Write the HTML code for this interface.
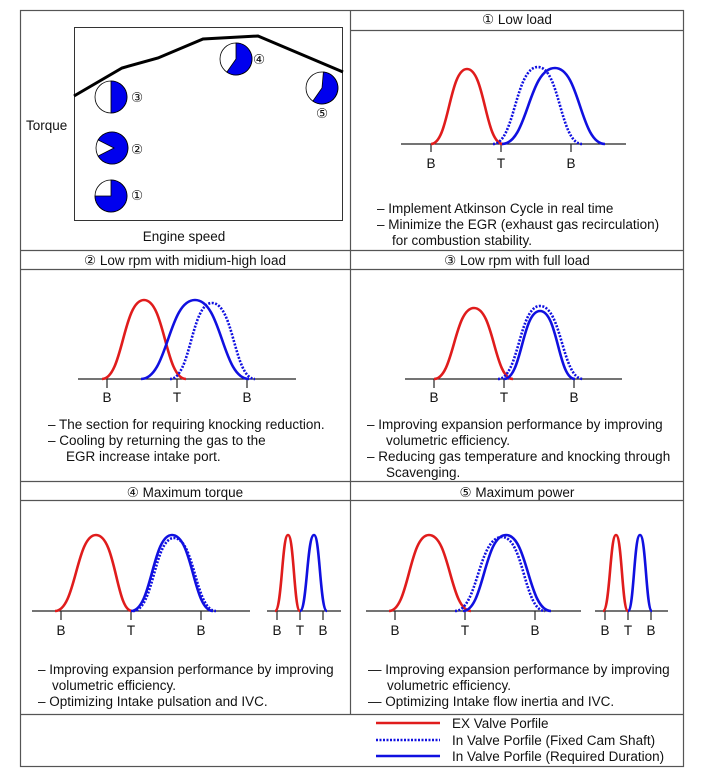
<!DOCTYPE html>
<html><head><meta charset="utf-8"><style>
body{margin:0;background:#fff}
svg{display:block}
text{font-family:"Liberation Sans","DejaVu Sans",sans-serif;font-size:13.5px;fill:#111}
.r{fill:none;stroke:#e01c1c;stroke-width:2.6}
.b{fill:none;stroke:#1010e0;stroke-width:2.6}
.d{fill:none;stroke:#1010e0;stroke-width:2.6;stroke-dasharray:2 1.5}
.ax{stroke:#222;stroke-width:1.2}
.g{stroke:#555;stroke-width:1.2;fill:none}
</style></head><body>
<svg width="703" height="777" viewBox="0 0 703 777" xmlns="http://www.w3.org/2000/svg">
<rect x="20.5" y="10.5" width="663" height="756" class="g"/>
<line x1="350.5" y1="10" x2="350.5" y2="714" class="g"/>
<line x1="350" y1="30.5" x2="683" y2="30.5" class="g"/>
<line x1="20" y1="250.5" x2="683" y2="250.5" class="g"/>
<line x1="20" y1="269.5" x2="683" y2="269.5" class="g"/>
<line x1="20" y1="481.5" x2="683" y2="481.5" class="g"/>
<line x1="20" y1="500.5" x2="683" y2="500.5" class="g"/>
<line x1="20" y1="714.5" x2="683" y2="714.5" class="g"/>

<text x="517" y="24" text-anchor="middle">① Low load</text>
<text x="185" y="265" text-anchor="middle">② Low rpm with midium-high load</text>
<text x="517" y="265" text-anchor="middle">③ Low rpm with full load</text>
<text x="185" y="497" text-anchor="middle">④ Maximum torque</text>
<text x="517" y="497" text-anchor="middle">⑤ Maximum power</text>

<rect x="74.5" y="27.5" width="268" height="193" fill="none" stroke="#333" stroke-width="1"/>
<polyline points="74,96 122,68 158,58 203,39 258,36 343,72" fill="none" stroke="#000" stroke-width="3"/>
<text x="26" y="130">Torque</text>
<text x="184" y="241" text-anchor="middle">Engine speed</text>
<g stroke="#000" stroke-width="0.8">
<circle cx="111" cy="196" r="16" fill="#fff"/>
<path d="M111,196 L111,180 A16,16 0 1 1 95,196 Z" fill="#0000ee"/>
<circle cx="112" cy="148" r="16" fill="#fff"/>
<path d="M114,148 L98.1,140 A16,16 0 1 1 98.1,156 Z" fill="#0000ee"/>
<circle cx="111" cy="97" r="16" fill="#fff"/>
<path d="M111,97 L111,81 A16,16 0 0 1 111,113 Z" fill="#0000ee"/>
<circle cx="236" cy="59" r="16" fill="#fff"/>
<path d="M236,59 L236,43 A16,16 0 1 1 226.8,72.1 Z" fill="#0000ee"/>
<circle cx="322" cy="88" r="16" fill="#fff"/>
<path d="M322,88 L323.4,72 A16,16 0 1 1 312.8,101.1 Z" fill="#0000ee"/>
</g>
<text x="131" y="200">①</text>
<text x="131" y="154">②</text>
<text x="131" y="102">③</text>
<text x="253" y="64">④</text>
<text x="316" y="118">⑤</text>

<line x1="401" y1="144" x2="626" y2="144" class="ax"/>
<g class="ax"><line x1="431" y1="144" x2="431" y2="152"/><line x1="501" y1="144" x2="501" y2="152"/><line x1="571" y1="144" x2="571" y2="152"/></g>
<path class="r" d="M431,144 C449,144 449,69 467,69 C485,69 485,144 503,144"/>
<path class="d" d="M493,144 C515,144 515,67 538,67 C560,67 560,144 582,144"/>
<path class="b" d="M502,144 C528,144 528,68 555,68 C580,68 580,144 605,144"/>
<text x="431" y="168" text-anchor="middle">B</text><text x="501" y="168" text-anchor="middle">T</text><text x="571" y="168" text-anchor="middle">B</text>
<text x="377" y="213">– Implement Atkinson Cycle in real time</text>
<text x="377" y="229">– Minimize the EGR (exhaust gas recirculation)</text>
<text x="392" y="245">for combustion stability.</text>

<line x1="78" y1="379" x2="296" y2="379" class="ax"/>
<g class="ax"><line x1="107" y1="379" x2="107" y2="388"/><line x1="177" y1="379" x2="177" y2="388"/><line x1="247" y1="379" x2="247" y2="388"/></g>
<path class="r" d="M102,379 C123,379 123,300 144,300 C165,300 165,379 186,379"/>
<path class="d" d="M170,379 C191,379 191,303 212,303 C234,303 234,379 255,379"/>
<path class="b" d="M141,379 C168,379 168,300 195,300 C222,300 222,379 249,379"/>
<text x="107" y="402" text-anchor="middle">B</text><text x="177" y="402" text-anchor="middle">T</text><text x="247" y="402" text-anchor="middle">B</text>
<text x="48" y="429">– The section for requiring knocking reduction.</text>
<text x="48" y="445">– Cooling by returning the gas to the</text>
<text x="66" y="461">EGR increase intake port.</text>

<line x1="405" y1="379" x2="622" y2="379" class="ax"/>
<g class="ax"><line x1="434" y1="379" x2="434" y2="388"/><line x1="504" y1="379" x2="504" y2="388"/><line x1="574" y1="379" x2="574" y2="388"/></g>
<path class="r" d="M434,379 C454,379 454,308 474,308 C494,308 494,379 513,379"/>
<path class="d" d="M498,379 C519,379 519,306 540,306 C562,306 562,379 583,379"/>
<path class="b" d="M504,379 C522,379 522,311 540,311 C558,311 558,379 575,379"/>
<text x="434" y="402" text-anchor="middle">B</text><text x="504" y="402" text-anchor="middle">T</text><text x="574" y="402" text-anchor="middle">B</text>
<text x="367" y="429">– Improving expansion performance by improving</text>
<text x="386" y="445">volumetric efficiency.</text>
<text x="367" y="461">– Reducing gas temperature and knocking through</text>
<text x="386" y="477">Scavenging.</text>

<line x1="32" y1="611" x2="250" y2="611" class="ax"/>
<g class="ax"><line x1="61" y1="611" x2="61" y2="620"/><line x1="131" y1="611" x2="131" y2="620"/><line x1="201" y1="611" x2="201" y2="620"/></g>
<path class="r" d="M55,611 C76,611 76,535 96,535 C116,535 116,611 132,611"/>
<path class="d" d="M133,611 C154,611 154,538 174,538 C195,538 195,611 216,611"/>
<path class="b" d="M131,611 C152,611 152,535 172,535 C193,535 193,611 213,611"/>
<line x1="267" y1="611" x2="341" y2="611" class="ax"/>
<g class="ax"><line x1="277" y1="611" x2="277" y2="620"/><line x1="300" y1="611" x2="300" y2="620"/><line x1="323" y1="611" x2="323" y2="620"/></g>
<path class="r" d="M275,611 C282,611 282,535 288,535 C294,535 294,611 300,611"/>
<path class="b" d="M300,611 C307,611 307,535 314,535 C320,535 320,611 327,611"/>
<text x="61" y="635" text-anchor="middle">B</text><text x="131" y="635" text-anchor="middle">T</text><text x="201" y="635" text-anchor="middle">B</text>
<text x="277" y="635" text-anchor="middle">B</text><text x="300" y="635" text-anchor="middle">T</text><text x="323" y="635" text-anchor="middle">B</text>
<text x="38" y="674">– Improving expansion performance by improving</text>
<text x="52" y="690">volumetric efficiency.</text>
<text x="38" y="706">– Optimizing Intake pulsation and IVC.</text>

<line x1="366" y1="611" x2="581" y2="611" class="ax"/>
<g class="ax"><line x1="395" y1="611" x2="395" y2="620"/><line x1="465" y1="611" x2="465" y2="620"/><line x1="535" y1="611" x2="535" y2="620"/></g>
<path class="r" d="M389,611 C409,611 409,535 429,535 C450,535 450,611 471,611"/>
<path class="d" d="M455,611 C478,611 478,537 502,537 C524,537 524,611 545,611"/>
<path class="b" d="M463,611 C484,611 484,535 506,535 C528,535 528,611 551,611"/>
<line x1="595" y1="611" x2="668" y2="611" class="ax"/>
<g class="ax"><line x1="605" y1="611" x2="605" y2="620"/><line x1="628" y1="611" x2="628" y2="620"/><line x1="651" y1="611" x2="651" y2="620"/></g>
<path class="r" d="M603,611 C610,611 610,535 616,535 C622,535 622,611 628,611"/>
<path class="b" d="M628,611 C634,611 634,535 640,535 C646,535 646,611 652,611"/>
<text x="395" y="635" text-anchor="middle">B</text><text x="465" y="635" text-anchor="middle">T</text><text x="535" y="635" text-anchor="middle">B</text>
<text x="605" y="635" text-anchor="middle">B</text><text x="628" y="635" text-anchor="middle">T</text><text x="651" y="635" text-anchor="middle">B</text>
<text x="368" y="674">— Improving expansion performance by improving</text>
<text x="387" y="690">volumetric efficiency.</text>
<text x="368" y="706">— Optimizing Intake flow inertia and IVC.</text>

<line x1="376" y1="723" x2="440" y2="723" class="r"/>
<line x1="376" y1="740" x2="440" y2="740" class="d"/>
<line x1="376" y1="756" x2="440" y2="756" class="b"/>
<text x="452" y="728">EX Valve Porfile</text>
<text x="452" y="745">In Valve Porfile (Fixed Cam Shaft)</text>
<text x="452" y="761">In Valve Porfile (Required Duration)</text>
</svg>
</body></html>
